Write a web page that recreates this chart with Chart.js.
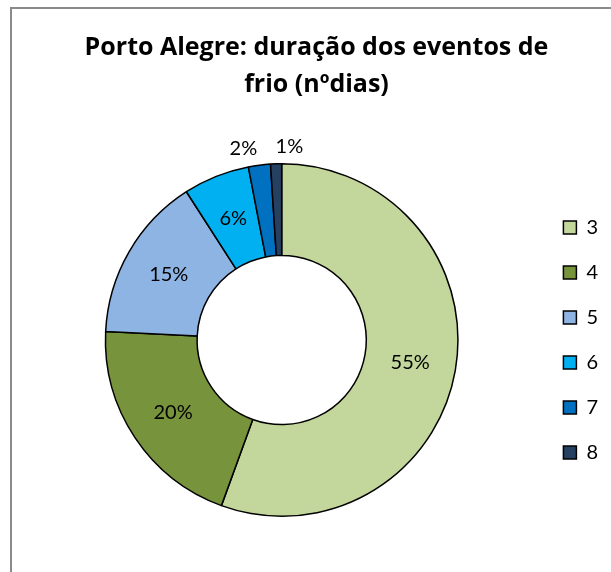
<!DOCTYPE html>
<html>
<head>
<meta charset="utf-8">
<script src="https://cdn.jsdelivr.net/npm/chart.js@4/dist/chart.umd.min.js"></script>
<style>
  html, body { margin: 0; padding: 0; background: #ffffff; overflow: hidden; }
  #wrap { position: relative; width: 611px; height: 572px; overflow: hidden; }
  #frame { position: absolute; left: 10px; top: 7px; width: 700px; height: 700px;
           border: 2px solid #8a8a8a; box-sizing: border-box; }
  #chart { position: absolute; left: 0; top: 0; }
</style>
</head>
<body>
<div id="wrap">
  <div id="frame"></div>
  <canvas id="chart" width="611" height="572"></canvas>
</div>
<script>
// Duração dos eventos de frio em Porto Alegre (número de dias) e a sua percentagem
const categories = ['3', '4', '5', '6', '7', '8'];
const percentages = [55, 20, 15, 6, 2, 1];
const titleLines = ['Porto Alegre: duração dos eventos de', 'frio (nºdias)'];
const sliceColors = ['#C3D69B', '#77933C', '#8EB4E3', '#00B0F0', '#0070C0', '#254061'];

const FONT = 'Lato, "Open Sans", "Liberation Sans", sans-serif';
const TITLE_FONT = '"Open Sans", Lato, "Liberation Sans", sans-serif';

// Rótulos de percentagem: dentro do anel para fatias grandes, fora para as pequenas
const sliceLabels = {
  id: 'sliceLabels',
  afterDatasetsDraw(chart) {
    const ctx = chart.ctx;
    const meta = chart.getDatasetMeta(0);
    const values = chart.data.datasets[0].data;
    ctx.save();
    ctx.font = '20px ' + FONT;
    ctx.fillStyle = '#000000';
    ctx.textBaseline = 'middle';
    meta.data.forEach((arc, i) => {
      const p = arc.getProps(['x', 'y', 'startAngle', 'endAngle', 'innerRadius', 'outerRadius'], true);
      const mid = (p.startAngle + p.endAngle) / 2;
      const text = values[i] + '%';
      if (values[i] >= 5) {
        const r = (p.innerRadius + p.outerRadius) / 2;
        ctx.textAlign = 'center';
        ctx.fillText(text, p.x + Math.cos(mid) * r, p.y + Math.sin(mid) * r);
      } else {
        const r = p.outerRadius + 17;
        const last = i === values.length - 1;
        ctx.textAlign = last ? 'left' : 'right';
        ctx.fillText(text, p.x + Math.cos(mid) * r, p.y + Math.sin(mid) * r);
      }
    });
    ctx.restore();
  }
};

new Chart(document.getElementById('chart'), {
  type: 'doughnut',
  data: {
    labels: categories,
    datasets: [{
      data: percentages,
      backgroundColor: sliceColors,
      borderColor: '#000000',
      borderWidth: 1.5
    }]
  },
  options: {
    responsive: false,
    animation: false,
    cutout: '48%',
    layout: { padding: { left: 25, right: 3, top: 0, bottom: 55 } },
    plugins: {
      title: {
        display: true,
        text: titleLines,
        color: '#000000',
        font: { family: TITLE_FONT, size: 25, weight: 'bold', lineHeight: 1.48 },
        padding: { top: 29.5, bottom: 59.5 }
      },
      legend: {
        position: 'right',
        fullSize: false,
        labels: {
          color: '#000000',
          font: { family: FONT, size: 20 },
          boxWidth: 13,
          boxHeight: 13,
          padding: 25
        }
      },
      tooltip: { enabled: false }
    }
  },
  plugins: [sliceLabels]
});
</script>
</body>
</html>
